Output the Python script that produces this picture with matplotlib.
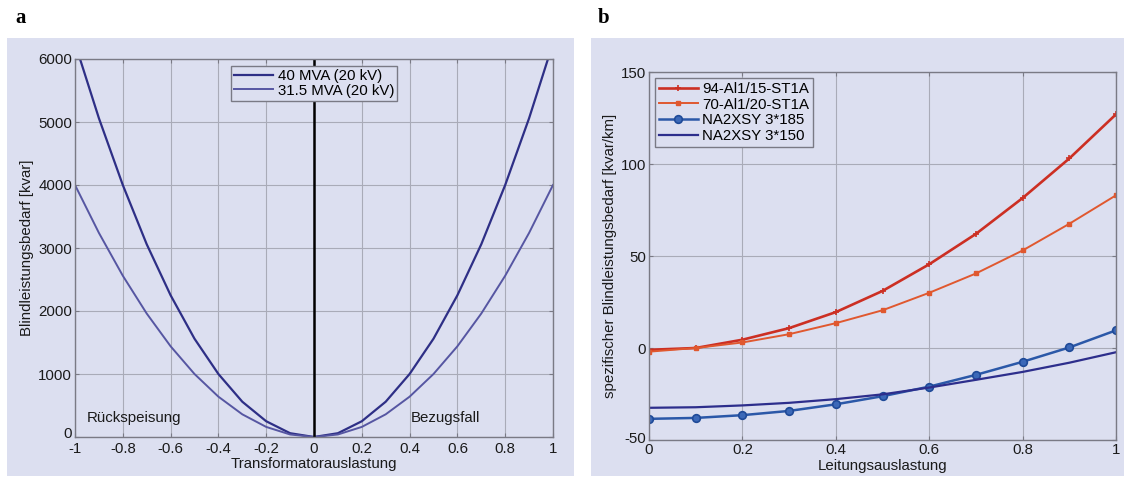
import numpy as np
import matplotlib
matplotlib.use("Agg")
import matplotlib.pyplot as plt
from matplotlib.patches import Rectangle
from matplotlib.transforms import ScaledTranslation

plt.rcParams['font.family'] = ['Liberation Sans', 'DejaVu Sans']
plt.rcParams['axes.unicode_minus'] = False

# --- panel a data: reactive power demand of transformers
load_a = [-1.0, -0.9, -0.8, -0.7, -0.6, -0.5, -0.4, -0.3, -0.2, -0.1, 0.0,
          0.1, 0.2, 0.3, 0.4, 0.5, 0.6, 0.7, 0.8, 0.9, 1.0]
q_40 = [6250, 5060, 4000, 3060, 2250, 1560, 1000, 560, 250, 60, 0,
        60, 250, 560, 1000, 1560, 2250, 3060, 4000, 5060, 6250]
q_315 = [4000, 3240, 2560, 1960, 1440, 1000, 640, 360, 160, 40, 0,
         40, 160, 360, 640, 1000, 1440, 1960, 2560, 3240, 4000]

# --- panel b data: specific reactive power demand of lines
load_b = [0.0, 0.1, 0.2, 0.3, 0.4, 0.5, 0.6, 0.7, 0.8, 0.9, 1.0]
q_94al = [-1, 0, 4.5, 10.8, 19.5, 31, 45.5, 62, 81.5, 103, 127]
q_70al = [-2, 0, 3, 7.5, 13.5, 20.5, 30, 40.5, 53, 67.5, 83]
q_185 = [-38.5, -38, -36.5, -34.2, -30.6, -26.2, -21, -14.6, -7.5, 0.3, 9.6]
q_150 = [-32.5, -32.2, -31.2, -29.8, -27.8, -25.2, -21.5, -17.3, -13, -8, -2.3]

BG = '#dcdff0'
GRID = '#a9abb8'
SPINE = '#7a7a85'
TXT = '#1a1a1a'
FS = 10.8

fig = plt.figure(figsize=(11.24, 4.83), dpi=100, facecolor='white')
W, H = 1124.0, 483.0

# grey-blue panel backgrounds (like matlab figure colour)
for x0, x1 in [(7, 574), (591, 1124)]:
    fig.patches.append(Rectangle((x0 / W, 1 - 476 / H), (x1 - x0) / W, (476 - 38) / H,
                                 transform=fig.transFigure, facecolor=BG,
                                 edgecolor='none', zorder=-10))


def style(ax):
    ax.set_zorder(5)
    ax.set_facecolor(BG)
    ax.grid(True, color=GRID, linewidth=0.8, linestyle='-')
    ax.set_axisbelow(True)
    for s in ax.spines.values():
        s.set_color(SPINE)
        s.set_linewidth(1.0)
    ax.tick_params(direction='in', length=3, width=0.8, color=SPINE,
                   labelsize=FS, labelcolor=TXT, top=True, right=True, pad=2)


def lift_lowest_ylabel(ax, dy_pt):
    # bottom y label sits just above the first x label, as in the original
    lab = ax.get_yticklabels()[0]
    lab.set_transform(lab.get_transform() + ScaledTranslation(0, dy_pt / 72, fig.dpi_scale_trans))


ax1 = fig.add_axes([75 / W, 1 - 437 / H, 478 / W, 378 / H])
style(ax1)
ax1.plot(load_a, q_40, color='#2e2f86', lw=1.6, label='40 MVA (20 kV)')
ax1.plot(load_a, q_315, color='#5656a2', lw=1.4, label='31.5 MVA (20 kV)')
ax1.plot([0, 0], [0, 6000], color='black', lw=1.8)
ax1.set_xlim(-1, 1)
ax1.set_ylim(0, 6000)
ax1.set_xticks([-1, -0.8, -0.6, -0.4, -0.2, 0, 0.2, 0.4, 0.6, 0.8, 1])
ax1.set_xticklabels(['-1', '-0.8', '-0.6', '-0.4', '-0.2', '0', '0.2', '0.4', '0.6', '0.8', '1'])
ax1.set_yticks(range(0, 6001, 1000))
ax1.tick_params(axis='x', pad=3.5)
ax1.set_xlabel('Transformatorauslastung', fontsize=FS, color=TXT, labelpad=1)
ax1.set_ylabel('Blindleistungsbedarf [kvar]', fontsize=FS, color=TXT, labelpad=3)
ax1.text(-0.95, 300, 'Rückspeisung', fontsize=FS, color=TXT, va='center')
ax1.text(0.405, 300, 'Bezugsfall', fontsize=FS, color=TXT, va='center')
leg1 = ax1.legend(loc='upper center', bbox_to_anchor=(0.5, 0.99), fontsize=FS,
                  frameon=True, fancybox=False, handlelength=2.6, handletextpad=0.3,
                  borderpad=0.2, labelspacing=0.05, borderaxespad=0.2)
leg1.get_frame().set_facecolor(BG)
leg1.get_frame().set_edgecolor(SPINE)
leg1.get_frame().set_alpha(1)
lift_lowest_ylabel(ax1, 3)

ax2 = fig.add_axes([649 / W, 1 - 440 / H, 467 / W, 368 / H])
style(ax2)
ax2.plot(load_b, q_94al, color='#cc2f23', lw=1.9, marker='+', ms=5, mew=1.2,
         label='94-Al1/15-ST1A')
ax2.plot(load_b, q_70al, color='#e0582f', lw=1.4, marker='s', ms=2.5,
         label='70-Al1/20-ST1A')
ax2.plot(load_b, q_185, color='#2b58a8', lw=1.8, marker='o', ms=5.5,
         mfc='#3b68b8', mec='#1f4a98', mew=1.2, label='NA2XSY 3*185')
ax2.plot(load_b, q_150, color='#2d2e8c', lw=1.6, label='NA2XSY 3*150')
ax2.set_xlim(0, 1)
ax2.set_ylim(-50, 150)
ax2.set_xticks([0, 0.2, 0.4, 0.6, 0.8, 1])
ax2.set_xticklabels(['0', '0.2', '0.4', '0.6', '0.8', '1'])
ax2.set_yticks([-50, 0, 50, 100, 150])
ax2.tick_params(axis='x', pad=2.5)
ax2.set_xlabel('Leitungsauslastung', fontsize=FS, color=TXT, labelpad=1)
ax2.set_ylabel('spezifischer Blindleistungsbedarf [kvar/km]', fontsize=FS,
               color=TXT, labelpad=3)
leg2 = ax2.legend(loc='upper left', fontsize=FS, frameon=True, fancybox=False,
                  handlelength=2.6, handletextpad=0.3, borderpad=0.25,
                  labelspacing=0.12, borderaxespad=0.4)
leg2.get_frame().set_facecolor(BG)
leg2.get_frame().set_edgecolor(SPINE)
leg2.get_frame().set_alpha(1)
lift_lowest_ylabel(ax2, 2)

fig.text(15 / W, 1 - 18 / H, 'a', fontsize=15, fontweight='bold',
         family='Liberation Serif', va='center', ha='left')
fig.text(598 / W, 1 - 18 / H, 'b', fontsize=15, fontweight='bold',
         family='Liberation Serif', va='center', ha='left')

fig.savefig('out.png', dpi=100, facecolor='white')
